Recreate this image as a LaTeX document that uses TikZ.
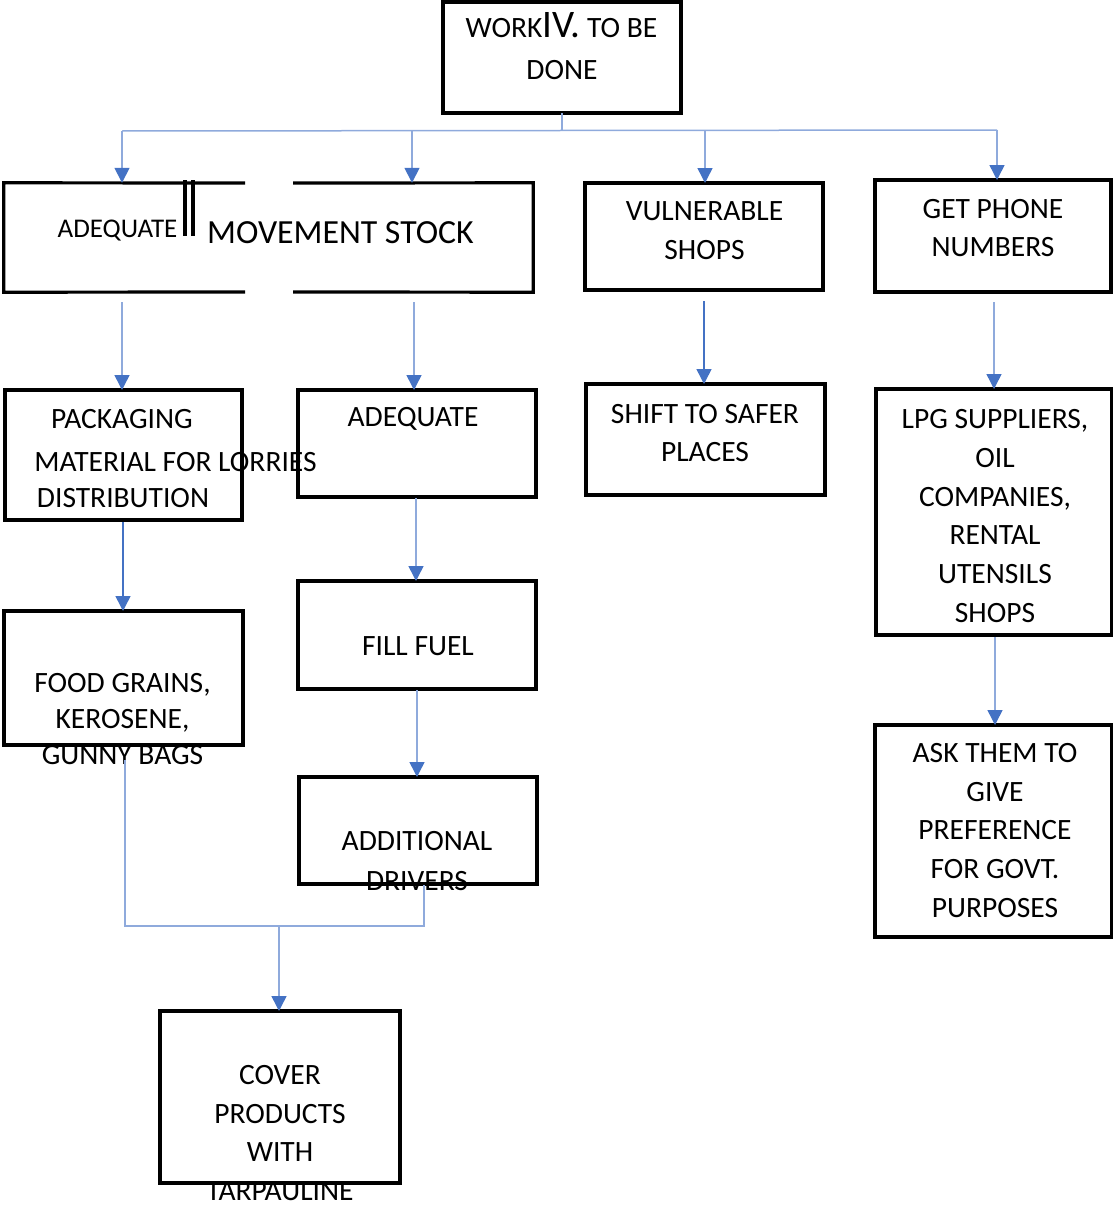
\documentclass[tikz,border=0pt]{standalone}
\usepackage{fontspec}
\setmainfont{Carlito}
\usetikzlibrary{arrows.meta,fit}
\definecolor{linec}{HTML}{8FAADC}
\definecolor{arrowc}{HTML}{4472C4}
\begin{document}
\begin{tikzpicture}[x=1pt,y=-1pt,
  box/.style={draw=black,line width=3.2pt,inner sep=0pt,outer sep=0pt},
  edge/.style={line width=3.2pt},
  txt/.style={font=\fontsize{29.5}{38.8}\selectfont,align=center,inner sep=0pt},
  conn/.style={draw=linec,line width=1.5pt},
  arr/.style={conn,-{Triangle[width=15pt,length=15pt,color=arrowc]}},
  darr/.style={arr,draw=arrowc}]
\useasboundingbox (0,0) rectangle (1113,1207);

% boxes
\node[box,fit={(443,2)(681,113)}] (top) {};
\node[inner sep=0pt,fit={(4,183)(533,292)}] (adq) {};
\node[box,fit={(585,183)(823,290)}] (vul) {};
\node[box,fit={(875,180)(1111,292)}] (phone) {};
\node[box,fit={(5,390)(242,520)}] (pack) {};
\node[box,fit={(298,390)(536,497)}] (adq2) {};
\node[box,fit={(586,384)(825,495)}] (shift) {};
\node[box,fit={(876,389)(1112,635)}] (lpg) {};
\node[box,fit={(4,611)(243,745)}] (food) {};
\node[box,fit={(298,581)(536,689)}] (fuel) {};
\node[box,fit={(299,777)(537,884)}] (drv) {};
\node[box,fit={(875,725)(1112,937)}] (ask) {};
\node[box,fit={(160,1011)(400,1183)}] (cover) {};

% split outline of the stock box
\draw[edge] (245,183) -- (adq.north west) -- (adq.south west) -- (245,292);
\draw[edge] (293,183) -- (adq.north east) -- (adq.south east) -- (293,292);
\draw[edge] (185,180) -- (185,236);
\draw[edge] (193,180) -- (193,236);

% texts
\node[txt,anchor=base] (t1) at (561.5,38) {WORK{\fontsize{39}{39}\selectfont IV.} TO BE};
\node[txt,anchor=base] (t2) at (562,80) {DONE};
\node[txt,anchor=base,font=\fontsize{27}{30}\selectfont] (adqa) at (117.5,237.5) {ADEQUATE};
\node[txt,anchor=base,font=\fontsize{33.8}{36}\selectfont] (adqb) at (340.5,243) {MOVEMENT STOCK};
\node[txt] (vult) at (704.5,231) {VULNERABLE\\SHOPS};
\node[txt] (phonet) at (993,228) {GET PHONE\\NUMBERS};
\node[txt] (pk1) at (122,419) {PACKAGING};
\node[txt] (pk2) at (175.5,462) {MATERIAL FOR LORRIES};
\node[txt] (pk3) at (123,498) {DISTRIBUTION};
\node[txt] (adq2t) at (413,419) {ADEQUATE};
\node[txt] (shiftt) at (705,433) {SHIFT TO SAFER\\PLACES};
\node[txt] (lpgt) at (995,516) {LPG SUPPLIERS,\\OIL\\COMPANIES,\\RENTAL\\UTENSILS\\SHOPS};
\node[txt,font=\fontsize{29.5}{36}\selectfont] (foodt) at (122.5,719) {FOOD GRAINS,\\KEROSENE,\\GUNNY BAGS};
\node[txt] (fuelt) at (418,646) {FILL FUEL};
\node[txt,font=\fontsize{29.5}{40}\selectfont] (drvt) at (417,861) {ADDITIONAL\\DRIVERS};
\node[txt] (askt) at (995,830.5) {ASK THEM TO\\GIVE\\PREFERENCE\\FOR GOVT.\\PURPOSES};
\node[txt] (covert) at (280,1133) {COVER\\PRODUCTS\\WITH\\TARPAULINE};

% distribution bus from the top box
\coordinate (busT) at (562,131);
\coordinate (busL) at (122,131);
\coordinate (busR) at (997,130);
\coordinate (b2) at (412,131);
\coordinate (b3) at (705,130.5);
\draw[conn] (top.south) -- (busT);
\draw[conn] (busL) -- (busR);
\draw[arr] (busL) -- (busL |- adq.north);
\draw[arr] (b2) -- (b2 |- adq.north);
\draw[arr] (b3) -- (b3 |- vul.north);
\draw[arr] (busR) -- (busR |- phone.north);

% first row to second row
\coordinate (s1) at (122,302);
\coordinate (s2) at (414,302);
\coordinate (s3) at (704,301);
\coordinate (s4) at (994,302);
\draw[arr] (s1) -- (s1 |- pack.north);
\draw[arr] (s2) -- (s2 |- adq2.north);
\draw[darr] (s3) -- (s3 |- shift.north);
\draw[arr] (s4) -- (s4 |- lpg.north);

% second row downwards
\coordinate (d1) at (123,522);
\coordinate (d2) at (416,498);
\coordinate (d3) at (417,690);
\coordinate (d4) at (995,637);
\draw[darr] (d1) -- (d1 |- food.north);
\draw[arr] (d2) -- (d2 |- fuel.north);
\draw[arr] (d3) -- (d3 |- drv.north);
\draw[arr] (d4) -- (d4 |- ask.north);

% merge into the cover box
\coordinate (m1) at (125,760);
\coordinate (m2) at (424,885);
\coordinate (m3) at (279,926);
\draw[conn] (m1) -- (125,926) -- (424,926) -- (m2);
\draw[arr] (m3) -- (m3 |- cover.north);
\end{tikzpicture}
\end{document}
